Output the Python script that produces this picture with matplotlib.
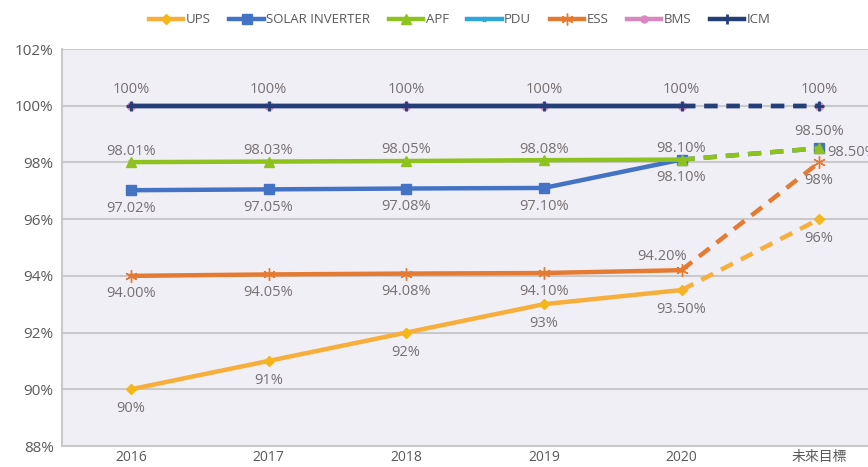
import numpy as np
import matplotlib.pyplot as plt

plt.rcParams['font.family'] = ['Open Sans', 'Noto Sans CJK TC', 'DejaVu Sans']

# categories
years = ['2016', '2017', '2018', '2019', '2020', '未來目標']

# series values (%)
ups = [90.0, 91.0, 92.0, 93.0, 93.5, 96.0]
solar = [97.02, 97.05, 97.08, 97.10, 98.10, 98.50]
apf = [98.01, 98.03, 98.05, 98.08, 98.10, 98.50]
pdu = [100, 100, 100, 100, 100, 100]
ess = [94.00, 94.05, 94.08, 94.10, 94.20, 98.0]
bms = [100, 100, 100, 100, 100, 100]
icm = [100, 100, 100, 100, 100, 100]

ups_lbl = ['90%', '91%', '92%', '93%', '93.50%', '96%']
solar_lbl = ['97.02%', '97.05%', '97.08%', '97.10%', '98.10%', '98.50%']
apf_lbl = ['98.01%', '98.03%', '98.05%', '98.08%', '98.10%', '98.50%']
ess_lbl = ['94.00%', '94.05%', '94.08%', '94.10%', '94.20%', '98%']
icm_lbl = ['100%'] * 6

yticks = [88, 90, 92, 94, 96, 98, 100, 102]

# name, values, line colour, marker, marker colour, marker size
series = [
  ('UPS', ups, '#F8AE3A', 'D', '#F5B718', 5.5),
  ('SOLAR INVERTER', solar, '#4472C4', 's', '#4472C4', 7),
  ('APF', apf, '#8DC21F', '^', '#8DC21F', 7),
  ('PDU', pdu, '#2EA6DE', 'x', '#2EA6DE', 4),
  ('ESS', ess, '#E57B32', (6, 2, 0), '#E57B32', 9),
  ('BMS', bms, '#DB87BF', 'o', '#DB87BF', 5.5),
  ('ICM', icm, '#243E77', '+', '#243E77', 7),
]

fig = plt.figure(figsize=(8.68, 4.67), dpi=100)
ax = fig.add_axes([62/868, 21/467, (888-62)/868, (446-49)/467])
ax.set_facecolor('#F1EFF6')

x = np.arange(len(years))
for name, y, c, m, mc, ms in series:
  mw = 2 if m in ('x', '+') else 1
  ax.plot(x[:5], y[:5], color=c, lw=3.2, marker=m, ms=ms, mfc=mc, mec=mc, mew=mw, zorder=3)
  ax.plot(x[4:], y[4:], color=c, lw=3.2, ls=(0, (3, 2)), marker=m, ms=ms, mfc=mc, mec=mc,
          mew=mw, markevery=[1], zorder=3)
  ax.plot([], [], color=c, lw=3.2, marker=m, ms=ms - 0.5, mfc=mc, mec=mc, mew=mw, label=name)

lc = '#767171'
fs = 10.5
def lab(txt, xi, yi, dx, dy, ha='center'):
  ax.annotate(txt, (xi, yi), xytext=(dx, dy), textcoords='offset points', ha=ha, va='center', color=lc, fontsize=fs)

for i in range(6):
  lab(ups_lbl[i], x[i], ups[i], 0, -14)
  lab(icm_lbl[i], x[i], icm[i], 0, 12)
  if i < 5:
    lab(solar_lbl[i], x[i], solar[i], 0, -13)
    lab(apf_lbl[i], x[i], apf[i], 0, 8)
  if i == 4:
    lab(ess_lbl[i], x[i], ess[i], -14, 10)
  else:
    lab(ess_lbl[i], x[i], ess[i], 0, -13)
lab(solar_lbl[5], x[5], solar[5], 0, 12)
lab(apf_lbl[5], x[5], apf[5], 6, -3, ha='left')

ax.set_xlim(-0.5, 5.5)
ax.set_ylim(88, 102)
ax.set_yticks(yticks)
ax.set_yticklabels([str(v) + '%' for v in yticks], color='#595959', fontsize=11)
ax.set_xticks(x)
ax.set_xticklabels(years, color='#595959', fontsize=10)
ax.tick_params(axis='y', length=0, pad=6)
ax.tick_params(axis='x', length=0, pad=3)
ax.grid(axis='y', color='#C9C9C9', lw=1.5)
ax.set_axisbelow(True)
for s in ['top', 'right']:
  ax.spines[s].set_visible(False)
for s in ['left', 'bottom']:
  ax.spines[s].set_color('#C9C9C9')
  ax.spines[s].set_linewidth(1.5)

fig.legend(loc='upper center', bbox_to_anchor=(0.53, 1.0), ncol=7, frameon=False, fontsize=9.5,
           handlelength=2.6, handletextpad=0.2, columnspacing=1.4, labelcolor='#595959',
           borderaxespad=0.6)

plt.savefig('out.png', dpi=100)
